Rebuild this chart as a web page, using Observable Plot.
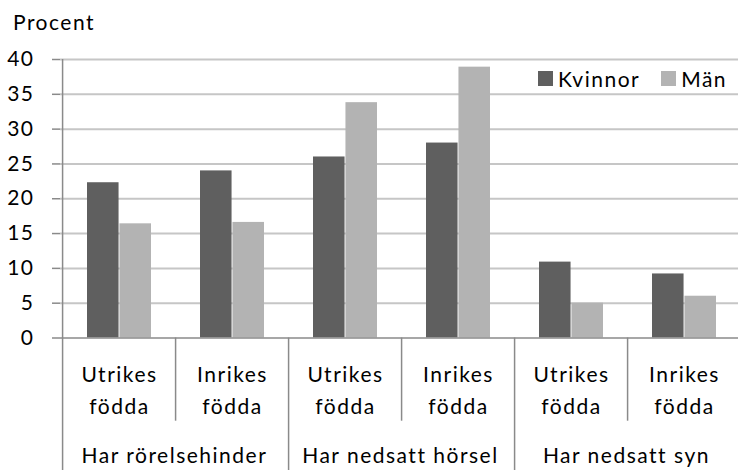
<!DOCTYPE html>
<html>
<head>
<meta charset="utf-8">
<script src="https://cdn.jsdelivr.net/npm/d3@7"></script>
<script src="https://cdn.jsdelivr.net/npm/@observablehq/plot@0.6"></script>
<style>
  html, body { margin: 0; padding: 0; background: #fff; }
  #wrap { position: relative; width: 738px; height: 470px; font-family: Lato, "Open Sans", sans-serif; color: #000; }
  #ylabel { position: absolute; left: 13px; top: 11px; font-size: 21px; line-height: 21px; letter-spacing: 1.5px; }
  #legend { position: absolute; left: 538px; top: 70px; display: flex; align-items: center; font-size: 21px; line-height: 17px; letter-spacing: 1.5px; }
  #legend .sw { width: 15px; height: 15px; display: inline-block; margin-right: 5px; }
  #legend .item { display: flex; align-items: center; margin-right: 21px; }
  #legend .item:last-child { margin-right: 0; }
</style>
</head>
<body>
<div id="wrap">
  <div id="ylabel">Procent</div>
  <div id="legend"></div>
</div>
<script>
// ---- data ----
const groups = ["Har rörelsehinder", "Har nedsatt hörsel", "Har nedsatt syn"];
const subcategories = ["Utrikes födda", "Inrikes födda"];
const seriesNames = ["Kvinnor", "Män"];
const kvinnor = [22.3, 24.0, 26.0, 28.0, 10.9, 9.2];
const man = [16.4, 16.6, 33.8, 38.9, 5.0, 6.0];
const yTicks = [0, 5, 10, 15, 20, 25, 30, 35, 40];
const colors = ["#5f5f5f", "#b3b3b3"];

// ---- table ----
const rows = [];
groups.forEach((g, gi) => subcategories.forEach((s, si) => {
  const i = gi * subcategories.length + si;
  const [line1, line2] = s.split(" ");
  rows.push({key: g + "|" + s, group: g, sub: s, line1, line2, si, kvinnor: kvinnor[i], man: man[i]});
}));
const keys = rows.map(d => d.key);

const half = 113.83 / 2;   // half a category step, px
const axisColor = "#8a8a8a";

const chart = Plot.plot({
  width: 738,
  height: 470,
  marginLeft: 60,
  marginRight: 0,
  marginTop: 59,
  marginBottom: 132.5,
  style: {fontFamily: "Lato, 'Open Sans', sans-serif", fontSize: "21px", letterSpacing: "1.5px", color: "#000", background: "transparent"},
  x: {domain: keys, range: [60, 743], paddingInner: 0.43, paddingOuter: 0.215, axis: null},
  y: {domain: [0, 40], axis: null},
  marks: [
    Plot.ruleY(yTicks.filter(v => v > 0), {stroke: "#c6c6c6", strokeWidth: 2}),
    Plot.axisY(yTicks, {tickSize: 8, tickPadding: 18, stroke: axisColor, strokeWidth: 1.5, fontSize: 21, label: null, tickFormat: d => String(d)}),
    Plot.barY(rows, {x: "key", y: "kvinnor", fill: colors[0], insetRight: 32.45}),
    Plot.barY(rows, {x: "key", y: "man", fill: colors[1], insetLeft: 32.45}),
    Plot.ruleY([0], {stroke: axisColor, strokeWidth: 1.5}),
    // left axis line (runs to bottom like a group separator)
    Plot.ruleX([keys[0]], {y1: -19.2, y2: 40, dx: -half, stroke: axisColor, strokeWidth: 1.5}),
    // separators between sub-categories
    Plot.ruleX(rows.filter(d => d.si === 1), {x: "key", y1: 0, y2: -11.95, dx: -half, stroke: axisColor, strokeWidth: 1.5}),
    // separators between groups
    Plot.ruleX(rows.filter((d, i) => d.si === 0 && i > 0), {x: "key", y1: 0, y2: -19.2, dx: -half, stroke: axisColor, strokeWidth: 1.5}),
    // sub-category labels (two lines)
    Plot.text(rows, {x: "key", y: -5.39, text: "line1", lineAnchor: "middle", fontSize: 21, fill: "#000"}),
    Plot.text(rows, {x: "key", y: -9.91, text: "line2", lineAnchor: "middle", fontSize: 21, fill: "#000"}),
    // group labels
    Plot.text(rows.filter(d => d.si === 0), {x: "key", y: -17.02, dx: half - 2, text: "group", lineAnchor: "middle", fontSize: 21, fill: "#000"})
  ]
});
document.getElementById("wrap").prepend(chart);
chart.style.position = "absolute";
chart.style.left = "0";
chart.style.top = "0";

const legend = document.getElementById("legend");
seriesNames.forEach((n, i) => {
  const item = document.createElement("div");
  item.className = "item";
  item.innerHTML = `<span class="sw" style="background:${colors[i]}"></span><span>${n}</span>`;
  legend.appendChild(item);
});
</script>
</body>
</html>
